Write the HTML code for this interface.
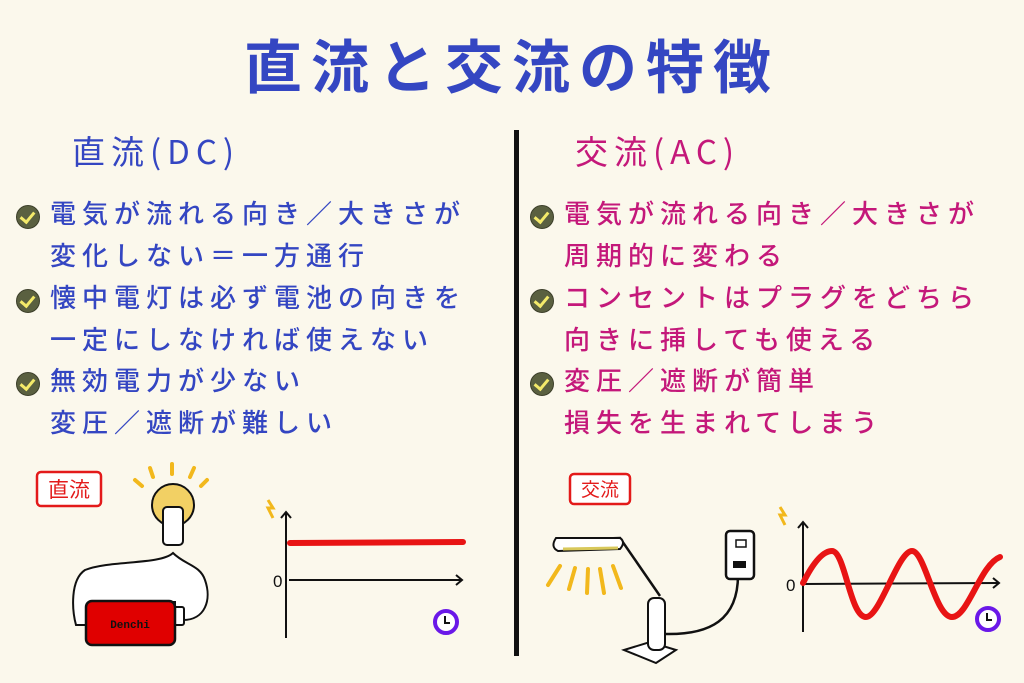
<!DOCTYPE html>
<html><head><meta charset="utf-8"><style>
body{margin:0;width:1024px;height:683px;background:#fbf8ec;position:relative;overflow:hidden;font-family:"Liberation Sans","Noto Sans CJK JP",sans-serif}
.t{position:absolute;white-space:nowrap;line-height:1;font-family:"Noto Sans CJK JP",sans-serif}
.b{color:#3446c2}.p{color:#c4187a}
.l{font-size:26px;letter-spacing:6px;font-weight:500}
.c{position:absolute;width:22px;height:22px;border-radius:50%;background:#5a6040;border:1px solid #3c3f2a}
.c:after{content:"";position:absolute;left:6px;top:3px;width:6px;height:11px;border:solid #f4ea6a;border-width:0 3px 3px 0;transform:rotate(40deg)}
</style></head><body>
<div class="t b" style="left:244px;top:34px;font-size:58px;letter-spacing:9px;font-weight:bold">直流と交流の特徴</div>
<div class="t b" style="left:72px;top:134px;font-size:33px;letter-spacing:6px">直流(DC)</div>
<div class="t p" style="left:575px;top:134px;font-size:33px;letter-spacing:6px">交流(AC)</div>
<div style="position:absolute;left:514px;top:130px;width:5px;height:526px;background:#111"></div>

<div class="c" style="left:16px;top:205px"></div>
<div class="t b l" style="left:50px;top:200px">電気が流れる向き／大きさが</div>
<div class="t b l" style="left:50px;top:242px">変化しない＝一方通行</div>
<div class="c" style="left:16px;top:289px"></div>
<div class="t b l" style="left:50px;top:284px">懐中電灯は必ず電池の向きを</div>
<div class="t b l" style="left:50px;top:326px">一定にしなければ使えない</div>
<div class="c" style="left:16px;top:372px"></div>
<div class="t b l" style="left:50px;top:367px">無効電力が少ない</div>
<div class="t b l" style="left:50px;top:409px">変圧／遮断が難しい</div>

<div class="c" style="left:530px;top:205px"></div>
<div class="t p l" style="left:564px;top:200px">電気が流れる向き／大きさが</div>
<div class="t p l" style="left:564px;top:242px">周期的に変わる</div>
<div class="c" style="left:530px;top:289px"></div>
<div class="t p l" style="left:564px;top:284px">コンセントはプラグをどちら</div>
<div class="t p l" style="left:564px;top:326px">向きに挿しても使える</div>
<div class="c" style="left:530px;top:372px"></div>
<div class="t p l" style="left:564px;top:367px">変圧／遮断が簡単</div>
<div class="t p l" style="left:564px;top:409px">損失を生まれてしまう</div>

<svg width="1024" height="683" style="position:absolute;left:0;top:0">
<rect x="37" y="472" width="64" height="34" rx="4" fill="#fff" stroke="#e31a1a" stroke-width="2.5"/>
<text x="69" y="497" font-size="21" fill="#e31a1a" text-anchor="middle" font-family="Noto Sans CJK JP,sans-serif">直流</text>
<g stroke="#f2b81c" stroke-width="4" stroke-linecap="round">
<line x1="135" y1="480" x2="142" y2="486"/><line x1="150" y1="468" x2="153" y2="477"/><line x1="172" y1="464" x2="172" y2="474"/><line x1="194" y1="468" x2="190" y2="477"/><line x1="207" y1="480" x2="201" y2="486"/></g>
<circle cx="173" cy="505" r="21" fill="#f2d064" stroke="#111" stroke-width="2"/>
<rect x="163" y="507" width="20" height="38" rx="4" fill="#fff" stroke="#111" stroke-width="2"/>
<path d="M173 553 C160 565 110 560 85 570 C70 580 72 610 76 625 L90 625 L90 602 L175 602 L175 620 L183 620 C205 620 212 600 205 580 C200 565 185 565 173 553 Z" fill="#fff" stroke="#111" stroke-width="2"/>
<rect x="174" y="607" width="10" height="18" rx="2" fill="#fff" stroke="#111" stroke-width="2"/>
<rect x="86" y="601" width="89" height="44" rx="6" fill="#e00000" stroke="#111" stroke-width="2.5"/>
<text x="130" y="628" font-size="11" fill="#111" text-anchor="middle" font-weight="bold" font-family="Liberation Mono,monospace">Denchi</text>
<path d="M268 500 l5 8 -5 0 5 10" fill="none" stroke="#f2b81c" stroke-width="3"/>
<line x1="286" y1="638" x2="286" y2="512" stroke="#111" stroke-width="2"/>
<path d="M281 518 l5 -6 5 6" fill="none" stroke="#111" stroke-width="2"/>
<line x1="289" y1="580" x2="462" y2="580" stroke="#111" stroke-width="2"/>
<path d="M456 575 l6 5 -6 5" fill="none" stroke="#111" stroke-width="2"/>
<text x="273" y="587" font-size="17" fill="#111">0</text>
<line x1="290" y1="543" x2="463" y2="542" stroke="#e81414" stroke-width="6" stroke-linecap="round"/>
<circle cx="446" cy="622" r="11" fill="#fff" stroke="#6a18e8" stroke-width="4"/>
<path d="M445 616 v7 h5" fill="none" stroke="#111" stroke-width="2"/>
<rect x="570" y="474" width="60" height="30" rx="4" fill="#fff" stroke="#e31a1a" stroke-width="2.5"/>
<text x="600" y="496" font-size="19" fill="#e31a1a" text-anchor="middle" font-family="Noto Sans CJK JP,sans-serif">交流</text>
<path d="M560 540 L620 538 L660 596" fill="none" stroke="#111" stroke-width="2.5"/>
<path d="M556 538 Q550 547 558 551 L620 549 Q626 542 620 538 Z" fill="#fff" stroke="#111" stroke-width="2"/>
<line x1="563" y1="549" x2="618" y2="548" stroke="#d8c85a" stroke-width="3"/>
<g stroke="#f2b81c" stroke-width="4" stroke-linecap="round">
<line x1="560" y1="566" x2="548" y2="585"/><line x1="575" y1="568" x2="569" y2="589"/><line x1="588" y1="569" x2="587" y2="593"/><line x1="600" y1="569" x2="604" y2="593"/><line x1="613" y1="566" x2="621" y2="588"/></g>
<path d="M624 650 L650 642 L676 650 L656 663 Z" fill="#fff" stroke="#111" stroke-width="2"/>
<rect x="648" y="598" width="17" height="52" rx="6" fill="#fff" stroke="#111" stroke-width="2"/>
<path d="M665 634 C710 635 738 620 738 575" fill="none" stroke="#111" stroke-width="2.5"/>
<rect x="726" y="531" width="28" height="48" rx="4" fill="#fff" stroke="#111" stroke-width="2.5"/>
<rect x="736" y="540" width="10" height="7" fill="none" stroke="#111" stroke-width="1.5"/>
<rect x="733" y="561" width="13" height="7" fill="#111"/>
<path d="M780 507 l5 8 -5 0 5 10" fill="none" stroke="#f2b81c" stroke-width="3"/>
<line x1="803" y1="632" x2="803" y2="522" stroke="#111" stroke-width="2"/>
<path d="M798 528 l5 -6 5 6" fill="none" stroke="#111" stroke-width="2"/>
<line x1="803" y1="584" x2="999" y2="583" stroke="#111" stroke-width="2"/>
<path d="M993 578 l6 5 -6 5" fill="none" stroke="#111" stroke-width="2"/>
<text x="786" y="591" font-size="17" fill="#111">0</text>
<path d="M803 583 C812 565 822 551 832 551 C845 551 850 617 866 617 C880 617 898 551 912 551 C925 551 935 617 952 617 C968 617 980 565 1000 557" fill="none" stroke="#e81414" stroke-width="6" stroke-linecap="round"/>
<circle cx="988" cy="619" r="11" fill="#fff" stroke="#6a18e8" stroke-width="4"/>
<path d="M987 613 v7 h5" fill="none" stroke="#111" stroke-width="2"/>
</svg>
</body></html>
